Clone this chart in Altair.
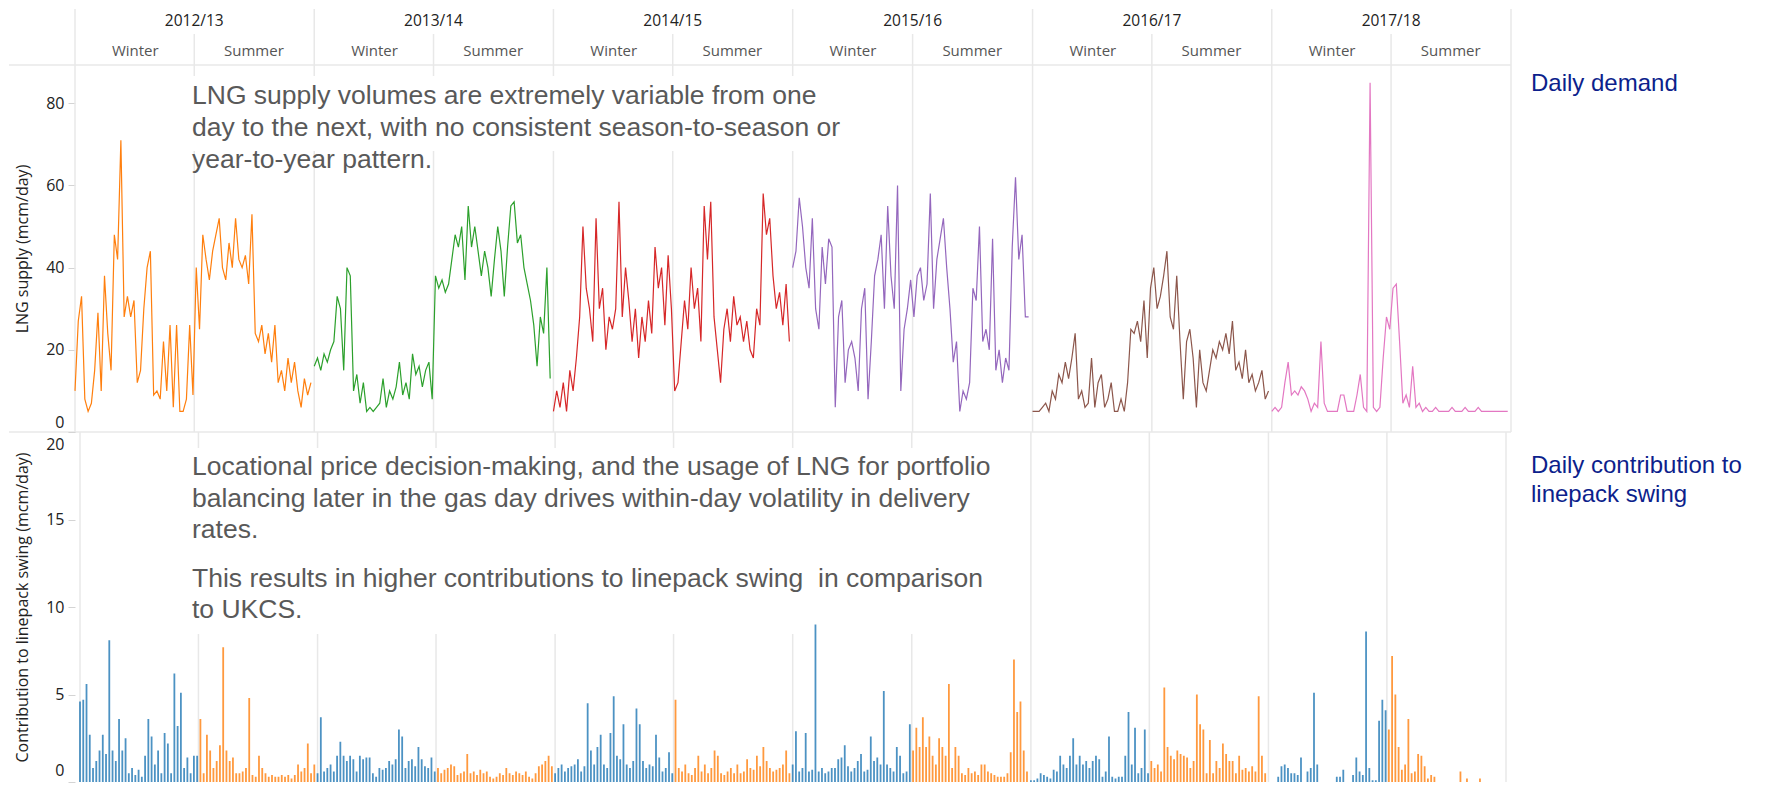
import altair as alt
import pandas as pd

# ---------------- data ----------------
season_years = ["2012/13", "2013/14", "2014/15", "2015/16", "2016/17", "2017/18"]
gas_year_starts = ["2012-10-01", "2013-10-01", "2014-10-01", "2015-10-01",
                   "2016-10-01", "2017-10-01", "2018-10-01"]
summer_starts = ["2013-04-01", "2014-04-01", "2015-04-01", "2016-04-01",
                 "2017-04-01", "2018-04-01"]
winter_mids = ["2013-01-01", "2014-01-01", "2015-01-01", "2016-01-01",
               "2017-01-01", "2018-01-01"]
summer_mids = ["2013-07-01", "2014-07-01", "2015-07-01", "2016-07-01",
               "2017-07-01", "2018-07-01"]
step_days = 5  # one reading every 5 days from 1 October

# LNG supply (mcm/day)
supply_2012 = [10, 27, 33, 8, 5, 7, 15, 29, 10, 38,
               24, 15, 48, 42, 71, 28, 33, 28, 32, 12,
               15, 30, 40, 44, 9, 10, 8, 22, 10, 26,
               6, 26, 5, 5, 8, 26, 9,
               40, 25, 48, 42, 37, 44, 48, 52, 40, 37,
               46, 40, 52, 42, 40, 43, 36, 53, 24, 22,
               26, 19, 24, 17, 26, 12, 15, 10, 18, 12,
               17, 10, 6, 13, 9, 12]
supply_2013 = [16, 18, 15, 19, 17, 20, 22, 33, 30, 15,
               40, 38, 10, 14, 7, 12, 5, 6, 5, 6,
               7, 13, 6, 10, 8, 11, 17, 9, 12, 8,
               19, 14, 16, 11, 15, 17, 8,
               38, 35, 37, 34, 36, 42, 48, 45, 50, 37,
               55, 45, 50, 44, 38, 44, 40, 33, 42, 50,
               44, 33, 45, 55, 56, 46, 48, 40, 36, 32,
               26, 16, 28, 24, 40, 13]
supply_2014 = [5, 10, 6, 12, 5, 15, 10, 18, 28, 50,
               35, 30, 22, 52, 30, 35, 20, 28, 25, 30,
               56, 28, 40, 32, 22, 30, 18, 28, 22, 32,
               24, 45, 35, 40, 26, 43, 30,
               10, 12, 22, 32, 25, 40, 30, 35, 22, 55,
               42, 56, 28, 20, 12, 25, 30, 22, 33, 26,
               28, 22, 27, 20, 18, 30, 26, 58, 48, 52,
               38, 30, 34, 26, 36, 22]
supply_2015 = [40, 44, 57, 50, 40, 35, 52, 30, 25, 45,
               36, 47, 45, 6, 28, 32, 12, 20, 22, 18,
               10, 30, 35, 8, 22, 38, 42, 48, 30, 55,
               38, 30, 60, 10, 25, 30, 37,
               28, 38, 40, 32, 36, 58, 30, 42, 47, 52,
               40, 30, 17, 22, 5, 10, 8, 12, 35, 32,
               50, 22, 25, 20, 47, 15, 20, 12, 18, 15,
               45, 62, 42, 48, 28, 28]
supply_2016 = [5, 5, 5, 6, 7, 5, 10, 8, 14, 12,
               17, 13, 18, 24, 8, 10, 6, 7, 18, 6,
               12, 14, 6, 8, 12, 5, 5, 8, 5, 12,
               25, 24, 27, 22, 32, 18, 35,
               40, 30, 33, 38, 44, 28, 25, 38, 22, 8,
               22, 25, 18, 6, 20, 12, 10, 15, 20, 18,
               22, 20, 24, 19, 27, 15, 17, 13, 20, 12,
               14, 10, 12, 15, 8, 10]
supply_2017 = [5, 6, 5, 6, 12, 17, 9, 10, 9, 11,
               10, 8, 5, 7, 6, 22, 7, 5, 5, 5,
               5, 9, 9, 5, 5, 5, 9, 14, 6, 5,
               85, 6, 5, 6, 18, 28, 25,
               35, 36, 22, 7, 9, 6, 16, 6, 7, 5,
               6, 5, 5, 6, 5, 5, 5, 5, 6, 5,
               5, 5, 6, 5, 5, 5, 6, 5, 5, 5,
               5, 5, 5, 5, 5, 5]

# Contribution to linepack swing (mcm/day)
swing_2012 = [4.6, 4.7, 5.6, 2.7, 0.8, 1.2, 1.8, 2.7, 1.6, 8.1,
              1.8, 1.2, 3.6, 1.8, 2.5, 0.5, 0.8, 0.4, 0.7, 0.3,
              1.5, 3.6, 2.6, 1.0, 1.8, 0.5, 2.8, 2.2, 0.5, 6.2,
              3.2, 5.1, 0.8, 1.4, 0.5, 1.5, 1.5,
              3.6, 0.5, 2.7, 1.8, 0.8, 1.2, 2.1, 7.7, 1.8, 1.2,
              1.4, 0.5, 0.5, 0.6, 0.8, 4.8, 0.4, 0.3, 1.5, 0.8,
              0.5, 0.3, 0.4, 0.3, 0.3, 0.4, 0.3, 0.4, 0.2, 0.4,
              1.0, 0.6, 0.8, 2.2, 0.5, 1.0]
swing_2013 = [0.5, 3.7, 0.6, 0.8, 1.0, 0.6, 1.5, 2.3, 1.5, 1.2,
              1.5, 1.3, 0.6, 1.5, 1.3, 1.4, 1.4, 0.5, 0.3, 0.8,
              0.7, 0.8, 1.2, 1.0, 1.3, 3.0, 2.6, 0.8, 1.2, 1.3,
              0.9, 2.0, 1.3, 0.9, 0.8, 1.4, 0.6,
              0.8, 0.5, 0.7, 0.8, 1.0, 0.9, 0.4, 0.5, 0.6, 1.6,
              0.5, 0.6, 0.4, 0.7, 0.5, 0.6, 0.3, 0.2, 0.3, 0.5,
              0.4, 0.8, 0.5, 0.4, 0.6, 0.5, 0.4, 0.6, 0.3, 0.2,
              0.5, 0.9, 1.0, 1.2, 1.5, 0.9]
swing_2014 = [0.5, 0.8, 1.0, 0.6, 0.8, 0.9, 1.0, 1.3, 0.6, 0.9,
              4.5, 1.8, 1.0, 2.0, 2.7, 1.0, 0.8, 2.8, 4.9, 1.5,
              1.3, 3.3, 1.0, 0.8, 1.2, 4.2, 3.3, 1.2, 0.8, 1.0,
              0.9, 2.7, 1.4, 0.6, 0.8, 1.7, 0.5,
              4.7, 0.8, 0.6, 1.0, 0.5, 0.4, 0.8, 1.5, 0.6, 1.0,
              0.5, 0.8, 1.8, 1.5, 0.5, 0.4, 0.6, 0.8, 0.5, 1.0,
              0.5, 0.6, 1.3, 0.8, 0.7, 1.5, 0.9, 2.0, 1.2, 0.8,
              0.6, 0.7, 0.8, 1.0, 1.8, 0.5]
swing_2015 = [1.0, 2.9, 0.6, 0.8, 2.8, 0.6, 0.7, 9.0, 0.6, 0.8,
              0.5, 0.6, 0.8, 0.8, 1.3, 1.4, 2.1, 0.9, 0.6, 0.8,
              1.2, 1.6, 0.6, 0.7, 2.6, 1.2, 1.4, 1.0, 5.2, 1.0,
              0.8, 0.6, 2.0, 1.5, 0.5, 0.6, 3.3,
              1.8, 3.1, 2.0, 3.7, 2.0, 2.6, 1.5, 1.0, 2.5, 2.0,
              1.5, 5.6, 0.8, 2.0, 1.5, 0.5, 0.4, 0.8, 0.5, 0.6,
              0.4, 1.0, 1.0, 0.6, 0.5, 0.4, 0.3, 0.3, 0.3, 0.5,
              1.7, 7.0, 4.0, 4.6, 1.8, 0.6]
swing_2016 = [0.1, 0.1, 0.2, 0.5, 0.4, 0.3, 0.2, 0.7, 0.6, 1.5,
              1.0, 0.8, 1.5, 2.5, 1.0, 1.5, 1.0, 1.2, 0.8, 1.2,
              1.5, 1.3, 0.3, 0.6, 2.6, 0.3, 0.2, 0.3, 0.3, 1.5,
              4.0, 1.0, 3.1, 0.5, 0.8, 3.0, 0.5,
              1.2, 0.8, 1.0, 0.6, 5.4, 2.0, 1.5, 1.3, 1.8, 1.6,
              1.5, 1.4, 0.8, 1.2, 5.0, 3.3, 3.0, 0.5, 2.4, 0.5,
              1.2, 0.8, 2.2, 1.6, 1.2, 1.2, 0.5, 1.5, 0.7, 0.8,
              0.6, 0.9, 0.6, 4.9, 1.5, 0.5]
swing_2017 = [0, 0, 0, 0.3, 0.9, 1.0, 0.8, 0.5, 0.5, 0.4,
              1.4, 0, 0.6, 0.8, 5.1, 1.0, 0, 0, 0, 0,
              0, 0.3, 0.3, 0.7, 0, 0, 0.4, 1.4, 0.6, 0.4,
              8.6, 0.8, 0.1, 0.1, 3.5, 4.7, 4.1,
              3.0, 7.2, 5.0, 2.0, 0.7, 1.0, 3.6, 0.5, 0.6, 1.6,
              1.5, 0.9, 0.2, 0.4, 0.3, 0, 0, 0, 0, 0,
              0, 0, 0.6, 0, 0.2, 0, 0, 0, 0.2, 0,
              0, 0, 0, 0, 0, 0]

line_colors = ["#ff7f0e", "#2ca02c", "#d62728", "#9467bd", "#8c564b", "#e377c2"]
season_colors = ["#1f77b4", "#ff7f0e"]

supply_lists = [supply_2012, supply_2013, supply_2014, supply_2015, supply_2016, supply_2017]
swing_lists = [swing_2012, swing_2013, swing_2014, swing_2015, swing_2016, swing_2017]

rows_s, rows_w = [], []
for label, start, sstart, sup, sw in zip(season_years, gas_year_starts, summer_starts,
                                         supply_lists, swing_lists):
    t0 = pd.Timestamp(start)
    t_summer = pd.Timestamp(sstart)
    for i, (a, b) in enumerate(zip(sup, sw)):
        d = t0 + pd.Timedelta(days=step_days * i)
        rows_s.append({"date": d, "supply": a, "year": label})
        rows_w.append({"date": d, "swing": b,
                       "season": "Winter" if d < t_summer else "Summer"})
df_supply = pd.DataFrame(rows_s)
df_swing = pd.DataFrame(rows_w)

one = pd.DataFrame({"k": [0]})
year_b_df = pd.DataFrame({"d": pd.to_datetime(gas_year_starts)})
season_b_df = pd.DataFrame({"d": pd.to_datetime(summer_starts)})
all_b_df = pd.DataFrame({"d": pd.to_datetime(gas_year_starts + summer_starts)})
year_lab_df = pd.DataFrame({"d": pd.to_datetime(summer_starts), "t": season_years})
seas_lab_df = pd.DataFrame({"d": pd.to_datetime(winter_mids + summer_mids),
                            "t": ["Winter"] * 6 + ["Summer"] * 6})

# ---------------- styling ----------------
FONT_UI = "Open Sans"
FONT_NOTE = "Liberation Sans"
GRID = "#e8e8e8"
NAVY = "#0d1f8c"
NOTE_GRAY = "#595959"
W, H_HEAD, H_TOP, H_BOT = 1436, 56, 367, 350
LEFT = -66

xscale = alt.Scale(domain=[alt.DateTime(year=2012, month=10, date=1),
                           alt.DateTime(year=2018, month=10, date=1)])


def vgrid(df, h, y0=0):
    return alt.Chart(df).mark_rule(color=GRID, strokeWidth=1.5).encode(
        x=alt.X("d:T", scale=xscale, axis=None),
        y=alt.value(y0), y2=alt.value(h))


def hline(y):
    return alt.Chart(one).mark_rule(color=GRID, strokeWidth=1.5).encode(
        x=alt.value(LEFT), x2=alt.value(W), y=alt.value(y))


def whitebox(x0, x1, y0, y1):
    return alt.Chart(one).mark_rect(color="white").encode(
        x=alt.value(x0), x2=alt.value(x1), y=alt.value(y0), y2=alt.value(y1))


def note(lines, x, y, size, color, lh):
    return alt.Chart(one).mark_text(
        text=lines, align="left", baseline="alphabetic", font=FONT_NOTE,
        fontSize=size, color=color, lineHeight=lh).encode(
        x=alt.value(x), y=alt.value(y))


yaxis_common = dict(grid=False, domain=False, ticks=True, tickColor="#d4d4d4",
                    tickSize=7, labelPadding=4, labelFlush=True,
                    labelFont=FONT_UI, labelFontSize=16, labelColor="#222222",
                    titleFont=FONT_UI, titleFontSize=16, titleFontWeight="normal",
                    titleColor="#222222", titleX=-53, titleBaseline="middle")

# ---------------- header ----------------
header = alt.layer(
    vgrid(year_b_df, H_HEAD, 0),
    vgrid(season_b_df, H_HEAD, 25),
    hline(H_HEAD),
    alt.Chart(year_lab_df).mark_text(font=FONT_UI, fontSize=15.5, color="#222222").encode(
        x=alt.X("d:T", scale=xscale, axis=None), y=alt.value(12), text="t:N"),
    alt.Chart(seas_lab_df).mark_text(font=FONT_UI, fontSize=15, color="#555555").encode(
        x=alt.X("d:T", scale=xscale, axis=None), y=alt.value(42), text="t:N"),
).properties(width=W, height=H_HEAD)

# ---------------- top panel ----------------
supply_line = alt.Chart(df_supply).mark_line(strokeWidth=1.2).encode(
    x=alt.X("date:T", scale=xscale, axis=None),
    y=alt.Y("supply:Q", scale=alt.Scale(domain=[0, 89.3], nice=False),
            axis=alt.Axis(values=[0, 20, 40, 60, 80], title="LNG supply (mcm/day)",
                          titleY=H_TOP / 2, labelFlushOffset=-2, **yaxis_common)),
    color=alt.Color("year:N", scale=alt.Scale(domain=season_years, range=line_colors),
                    legend=None),
)

top = alt.layer(
    vgrid(all_b_df, H_TOP, 0),
    whitebox(113, 775, 11, 86),
    supply_line,
    note(["LNG supply volumes are extremely variable from one",
          "day to the next, with no consistent season-to-season or",
          "year-to-year pattern."], 117, 39.3, 26.5, NOTE_GRAY, 32),
    note(["Daily demand"], 1456, 26, 24, NAVY, 29.5),
    hline(H_TOP),
).properties(width=W, height=H_TOP)

# ---------------- bottom panel ----------------
swing_bars = alt.Chart(df_swing).mark_bar(size=1.8, opacity=0.8).encode(
    x=alt.X("date:T", scale=xscale, axis=None),
    y=alt.Y("swing:Q", scale=alt.Scale(domain=[0, 20], nice=False),
            axis=alt.Axis(values=[0, 5, 10, 15, 20],
                          title="Contribution to linepack swing (mcm/day)",
                          titleY=H_BOT / 2, labelFlushOffset=-4, **yaxis_common)),
    color=alt.Color("season:N", scale=alt.Scale(domain=["Winter", "Summer"],
                                                range=season_colors), legend=None),
)

bottom = alt.layer(
    vgrid(all_b_df, H_BOT, 0),
    whitebox(113, 925, 16, 202),
    swing_bars,
    note(["Locational price decision-making, and the usage of LNG for portfolio",
          "balancing later in the gas day drives within-day volatility in delivery",
          "rates."], 117, 43.3, 26.5, NOTE_GRAY, 31.6),
    note(["This results in higher contributions to linepack swing \u00a0in comparison",
          "to UKCS."], 117, 154.7, 26.5, NOTE_GRAY, 31.6),
    note(["Daily contribution to", "linepack swing"], 1456, 40.7, 24, NAVY, 29.5),
).properties(width=W, height=H_BOT)

chart = alt.vconcat(header, top, bottom, spacing=0, bounds="flush").resolve_scale(
    x="independent", y="independent", color="independent"
).properties(
    padding={"left": 0, "top": 0, "right": 5, "bottom": 0}
).configure_view(stroke=None)

chart.save("out.html", embed_options={"renderer": "svg", "actions": False})
